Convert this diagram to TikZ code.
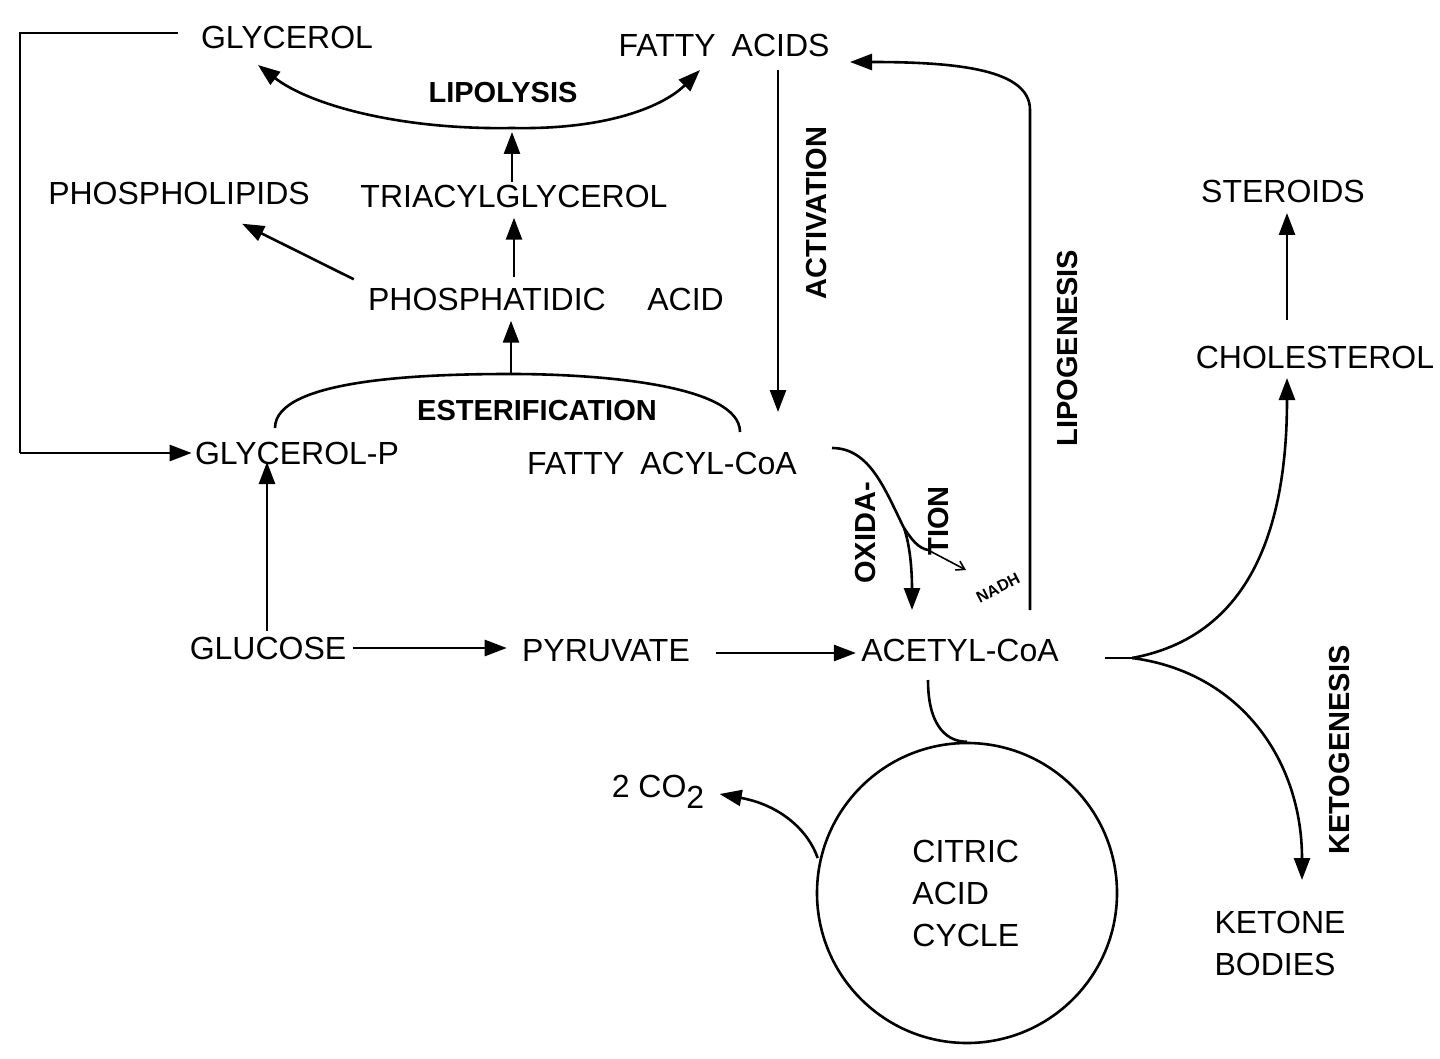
\documentclass[tikz,border=0pt]{standalone}
\usepackage{fontspec}
\setmainfont{Liberation Sans}
\usetikzlibrary{arrows.meta,calc}
\begin{document}
\begin{tikzpicture}[x=0.5pt,y=-0.5pt,
  every node/.style={inner sep=0pt, font=\fontsize{16}{21}\selectfont},
  lbl/.style={font=\fontsize{14.5}{17}\selectfont\bfseries},
  ln/.style={line width=1.3pt},
  arr/.style={line width=1.3pt,-{Triangle[length=11pt,width=8pt]}},
  thin arr/.style={line width=0.8pt,-{Straight Barb[length=4pt,width=5pt]}},
]
\useasboundingbox[fill=white] (0,0) rectangle (1440,1059);

% ---- nodes
\node (glycerol) at (287,37) {GLYCEROL};
\node (fa) at (724,45) {FATTY\enspace ACIDS};
\node[lbl] (lipolysis) at (503,93) {LIPOLYSIS};
\node (pl) at (179,193) {PHOSPHOLIPIDS};
\node (tag) at (514,196) {TRIACYLGLYCEROL};
\node (pa) at (546,299) {PHOSPHATIDIC\hspace{1.3em}ACID};
\node[lbl] (ester) at (537,411) {ESTERIFICATION};
\node (glp) at (297,453) {GLYCEROL-P};
\node (faco) at (662,463) {FATTY\enspace ACYL-CoA};
\node[lbl,rotate=90] (activ) at (817,213) {ACTIVATION};
\node[lbl,rotate=90] (lipog) at (1068,348) {LIPOGENESIS};
\node (steroids) at (1283,191) {STEROIDS};
\node (chol) at (1315,357) {CHOLESTEROL};
\node (glucose) at (268,648) {GLUCOSE};
\node (pyr) at (606,651) {PYRUVATE};
\node (acoa) at (960,650) {ACETYL-CoA};
\node[lbl,rotate=90] (keto) at (1340,750) {KETOGENESIS};
\node[align=left] (kb) at (1280,943) {KETONE\\BODIES};
\node[circle,draw,ln,minimum size=150pt] (tca) at (967,893) {};
\node[align=left,anchor=west] (tcatext) at (912,893) {CITRIC\\ACID\\CYCLE};
\node (co2) at (658,792) {2 CO\raisebox{-0.35em}{2}};
\node[lbl,rotate=90] (oxida) at (866,533) {OXIDA-};
\node[lbl,rotate=90] (tion) at (939,521) {TION};
\node[font=\fontsize{8}{9}\selectfont\bfseries,rotate=27] (nadh) at (998,588) {NADH};

% ---- free-end coordinates
\coordinate (lipomid) at (512,128);
\coordinate (glyTip) at (258,65);
\coordinate (faTip) at (700,70);
\coordinate (esterTop) at (511,374);
\coordinate (esterL) at (275,428);
\coordinate (esterR) at (740,432);
\coordinate (loopA) at (20,33);
\coordinate (loopB) at (20,453);
\coordinate (lipoTurn) at (1030,110);
\coordinate (split) at (1132,658);
\coordinate (oxBranch) at (904,528);

% ---- connectors
% lipolysis
\draw[arr] (lipomid) .. controls (400,130) and (310,105) .. (glyTip);
\draw[arr] (lipomid) .. controls (610,130) and (665,105) .. (faTip);
\draw[arr] (tag.north -| lipomid) ++(0,-2) -- ($(lipomid)+(0,4)$);
% phosphatidic acid
\draw[arr] ($(pa.north west)+(-14,-8)$) -- ($(pl.south east)+(-68,19)$);
\draw[arr] (pa.north -| tag) ++(0,-10) -- ($(tag.south)+(0,10)$);
% esterification
\draw[ln] (esterL) .. controls (275,378) and (430,374) .. (esterTop)
          .. controls (600,374) and (740,385) .. (esterR);
\draw[arr] (esterTop) -- ($(pa.south -| esterTop)+(0,10)$);
% glycerol loop
\draw[ln] ($(glycerol.west)+(-23,-4)$) -- (loopA) -- (loopB);
\draw[arr] (loopB) -- ($(glp.west)+(-3,0)$);
% activation
\draw[arr] (778,70) -- (778,412);
% lipogenesis
\draw[arr] (1030,610) -- (lipoTurn) .. controls (1030,70) and (960,62) .. (850,62);
% steroids
\draw[arr] (1287,320) -- (1287,213);
% glucose
\draw[arr] (glucose.north -| 267,0) ++(0,-5) -- (267,462);
\draw[arr] ($(glucose.east)+(6,0)$) -- ($(pyr.west)+(-15,-3)$);
\draw[arr] ($(pyr.east)+(26,2)$) -- ($(acoa.west)+(-5,3)$);
% acetyl-CoA split
\draw[ln] (1105,658) -- (split);
\draw[arr] (split) .. controls (1230,640) and (1287,560) .. (1287,378);
\draw[arr] (split) .. controls (1240,672) and (1302,760) .. (1302,880);
% to citric acid cycle
\draw[ln] (928,680) .. controls (928,730) and (950,742) .. (tca.north);
% co2
\draw[arr] (tca.west |- 0,858) ++(2,0) .. controls (808,830) and (780,805) .. ($(co2.east)+(15,2)$);
% oxidation
\draw[ln] (832,448) .. controls (870,448) and (885,490) .. (oxBranch)
          .. controls (912,540) and (918,548) .. (928,550);
\draw[thin arr] (928,550) -- (966,570);
\draw[arr] (oxBranch) .. controls (910,545) and (912,570) .. (912,610);
\end{tikzpicture}
\end{document}
